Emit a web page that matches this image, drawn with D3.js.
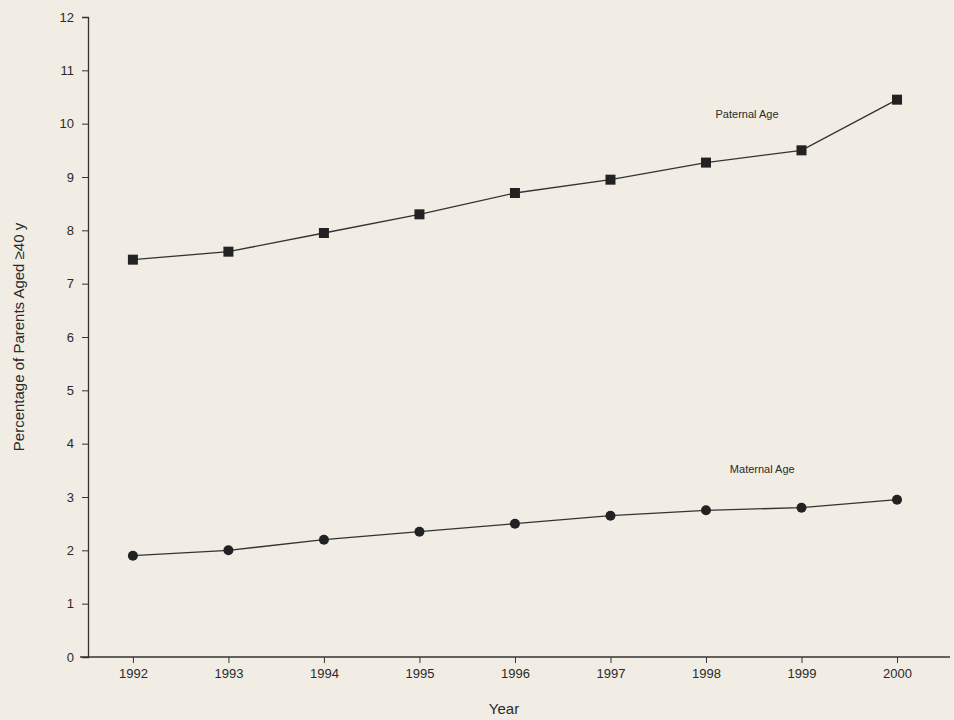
<!DOCTYPE html>
<html><head><meta charset="utf-8">
<script src="https://cdn.jsdelivr.net/npm/d3@7"></script>
<style>body{margin:0;background:#f1ede4;} text{font-family:"Liberation Sans",Arial,sans-serif;fill:#2a2a2a;}</style>
</head><body><div id="chart"></div>
<script>
var years = [1992, 1993, 1994, 1995, 1996, 1997, 1998, 1999, 2000];
var paternal = [7.45, 7.6, 7.95, 8.3, 8.7, 8.95, 9.27, 9.5, 10.45];
var maternal = [1.9, 2.0, 2.2, 2.35, 2.5, 2.65, 2.75, 2.8, 2.95];
var yTicks = d3.range(0, 13);

var margin = {top: 17, right: 14, bottom: 63, left: 88},
    width = 954 - margin.left - margin.right,
    height = 720 - margin.top - margin.bottom;

var svg = d3.select("#chart").append("svg")
    .attr("width", 954).attr("height", 720)
  .append("g")
    .attr("transform", "translate(" + margin.left + "," + margin.top + ")");

var x = d3.scaleLinear().domain([1991.53, 2000.45]).range([0, width]);
var y = d3.scaleLinear().domain([0, 12]).range([height, 0]);

// axes
var xAxis = svg.append("g").attr("transform", "translate(0," + height + ")")
    .call(d3.axisBottom(x).tickValues(years).tickFormat(d3.format("d")).tickSize(6).tickPadding(6));
var yAxis = svg.append("g")
    .call(d3.axisLeft(y).tickValues(yTicks).tickSize(6).tickPadding(8));
[xAxis, yAxis].forEach(function(a) {
  a.select(".domain").attr("stroke", "#333").attr("stroke-width", 1.3);
  a.selectAll("line").attr("stroke", "#333");
  a.selectAll("text").attr("font-size", 13).attr("fill", "#2a2a2a");
});
xAxis.select(".domain").attr("d", "M-8,0H" + (width + 10));

var line = d3.line().x(function(d, i) { return x(years[i]); }).y(function(d) { return y(d); });

svg.append("path").datum(paternal).attr("d", line).attr("fill", "none").attr("stroke", "#333").attr("stroke-width", 1.3);
svg.append("path").datum(maternal).attr("d", line).attr("fill", "none").attr("stroke", "#333").attr("stroke-width", 1.3);

svg.selectAll(".sq").data(paternal).enter().append("rect")
    .attr("x", function(d, i) { return x(years[i]) - 5; })
    .attr("y", function(d) { return y(d) - 5; })
    .attr("width", 10).attr("height", 10).attr("fill", "#222");
svg.selectAll(".dot").data(maternal).enter().append("circle")
    .attr("cx", function(d, i) { return x(years[i]); })
    .attr("cy", function(d) { return y(d); })
    .attr("r", 5).attr("fill", "#222");

svg.append("text").attr("x", x(1998.1)).attr("y", y(10.1)).attr("font-size", 11).text("Paternal Age");
svg.append("text").attr("x", x(1998.25)).attr("y", y(3.45)).attr("font-size", 11).text("Maternal Age");

svg.append("text").attr("x", width / 2 - 10).attr("y", height + 57).attr("text-anchor", "middle")
    .attr("font-size", 15).text("Year");
svg.append("text").attr("transform", "translate(-64," + (height / 2) + ") rotate(-90)")
    .attr("text-anchor", "middle").attr("font-size", 15).text("Percentage of Parents Aged ≥40 y");
</script></body></html>
